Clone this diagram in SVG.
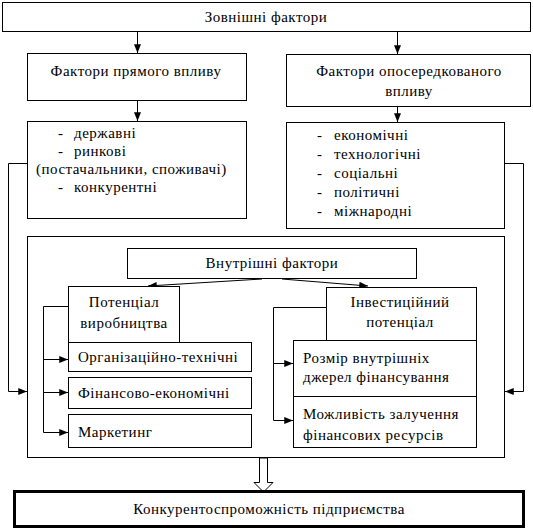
<svg xmlns="http://www.w3.org/2000/svg" width="533" height="529" viewBox="0 0 533 529">
<style>
.b{fill:#fff;stroke:#000;stroke-width:1}
.t{font-family:'Liberation Serif','Times New Roman',serif;font-size:15px;letter-spacing:0.5px;fill:#000}
.m{text-anchor:middle}
.c{fill:none;stroke:#000;stroke-width:1}
.a{marker-end:url(#ah)}
</style>
<defs>
<marker id="ah" viewBox="0 0 10 8" refX="10" refY="4" markerWidth="9" markerHeight="7" markerUnits="userSpaceOnUse" orient="auto">
<path d="M0,0 L10,4 L0,8 Z" fill="#000"/>
</marker>
</defs>
<rect width="533" height="529" fill="#fff"/>
<g id="connectors">
<line class="c a" x1="137.5" y1="31.5" x2="137.5" y2="53"/>
<line class="c a" x1="397.5" y1="31.5" x2="397.5" y2="54"/>
<line class="c a" x1="137.5" y1="100.5" x2="137.5" y2="121"/>
<line class="c a" x1="397.5" y1="106.5" x2="397.5" y2="122"/>
<polyline class="c a" points="27.5,163.5 8.5,163.5 8.5,391.5 27,391.5"/>
<polyline class="c a" points="504.5,163.5 523.5,163.5 523.5,391.5 505,391.5"/>
<line class="c a" x1="262" y1="279" x2="148" y2="286"/>
<line class="c a" x1="282" y1="279" x2="368" y2="286"/>
<polyline class="c" points="68.5,306.5 43.5,306.5 43.5,432.5"/>
<line class="c a" x1="43.5" y1="359.5" x2="68" y2="359.5"/>
<line class="c a" x1="43.5" y1="392.5" x2="68" y2="392.5"/>
<line class="c a" x1="43.5" y1="432.5" x2="68" y2="432.5"/>
<polyline class="c" points="326.5,307.5 273.5,307.5 273.5,420.5"/>
<line class="c a" x1="273.5" y1="363.5" x2="293" y2="363.5"/>
<line class="c a" x1="273.5" y1="420.5" x2="293" y2="420.5"/>
<polygon class="b" points="259.5,458 267.5,458 267.5,482.5 273,482.5 263.5,492 254,482.5 259.5,482.5"/>
</g>
<g id="external">
<rect class="b" x="2.5" y="2.5" width="528" height="29"/>
<text class="t m" x="266" y="22">Зовнішні фактори</text>
</g>
<g id="direct">
<rect class="b" x="27.5" y="53.5" width="219" height="47"/>
<text class="t m" x="136" y="76">Фактори прямого впливу</text>
</g>
<g id="indirect">
<rect class="b" x="286.5" y="54.5" width="244" height="52"/>
<text class="t m" x="409" y="76">Фактори опосередкованого</text>
<text class="t m" x="409" y="96">впливу</text>
</g>
<g id="direct-list">
<rect class="b" x="27.5" y="121.5" width="219" height="97"/>
<text class="t" x="58" y="138">-</text><text class="t" x="74" y="138">державні</text>
<text class="t" x="58" y="156">-</text><text class="t" x="74" y="156">ринкові</text>
<text class="t" x="36" y="174">(постачальники, споживачі)</text>
<text class="t" x="58" y="192">-</text><text class="t" x="74" y="192">конкурентні</text>
</g>
<g id="indirect-list">
<rect class="b" x="286.5" y="122.5" width="218" height="106"/>
<text class="t" x="317" y="140">-</text><text class="t" x="334" y="140">економічні</text>
<text class="t" x="317" y="159">-</text><text class="t" x="334" y="159">технологічні</text>
<text class="t" x="317" y="178">-</text><text class="t" x="334" y="178">соціальні</text>
<text class="t" x="317" y="197">-</text><text class="t" x="334" y="197">політичні</text>
<text class="t" x="317" y="216">-</text><text class="t" x="334" y="216">міжнародні</text>
</g>
<g id="internal-frame">
<rect x="27.5" y="236.5" width="477" height="221" fill="none" stroke="#000"/>
</g>
<g id="internal">
<rect class="b" x="127.5" y="248.5" width="289" height="30"/>
<text class="t m" x="272" y="268">Внутрішні фактори</text>
</g>
<g id="production">
<rect class="b" x="68.5" y="286.5" width="111" height="56"/>
<text class="t m" x="124" y="307">Потенціал</text>
<text class="t m" x="124" y="328">виробництва</text>
</g>
<g id="org-tech">
<rect class="b" x="68.5" y="342.5" width="183" height="29"/>
<text class="t" x="78" y="362">Організаційно-технічні</text>
</g>
<g id="fin-econ">
<rect class="b" x="68.5" y="377.5" width="183" height="31"/>
<text class="t" x="78" y="398">Фінансово-економічні</text>
</g>
<g id="marketing">
<rect class="b" x="68.5" y="414.5" width="183" height="33"/>
<text class="t" x="78" y="437">Маркетинг</text>
</g>
<g id="investment">
<rect class="b" x="326.5" y="287.5" width="150" height="53"/>
<text class="t m" x="400" y="307">Інвестиційний</text>
<text class="t m" x="400" y="327">потенціал</text>
</g>
<g id="internal-sources">
<rect class="b" x="293.5" y="340.5" width="183" height="56"/>
<text class="t" x="303" y="363">Розмір внутрішніх</text>
<text class="t" x="303" y="382">джерел фінансування</text>
</g>
<g id="external-sources">
<rect class="b" x="293.5" y="396.5" width="183" height="51"/>
<text class="t" x="303" y="419">Можливість залучення</text>
<text class="t" x="303" y="440">фінансових ресурсів</text>
</g>
<g id="competitiveness">
<rect x="14.5" y="491.5" width="509" height="35" fill="#fff" stroke="#000" stroke-width="3"/>
<text class="t m" x="269" y="514">Конкурентоспроможність підприємства</text>
</g>
</svg>
